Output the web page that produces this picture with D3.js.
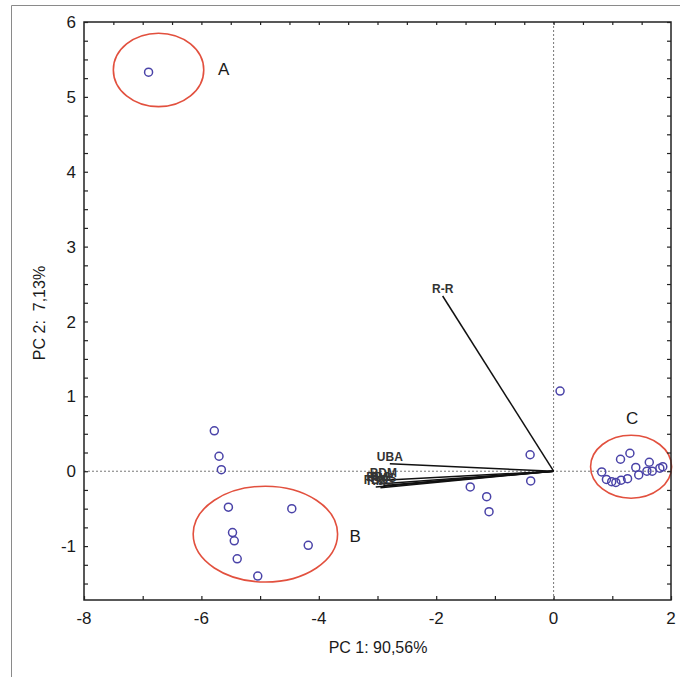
<!DOCTYPE html>
<html>
<head>
<meta charset="utf-8">
<script src="https://cdn.jsdelivr.net/npm/d3@7"></script>
<style>
  body { margin: 0; background: #fff; }
  text { font-family: "Liberation Sans", Arial, sans-serif; fill: #1a1a1a; }
</style>
</head>
<body>
<svg width="680" height="677"></svg>
<script>
// case scores (PC1, PC2)
var scoreX = [-6.9, -5.78, -5.7, -5.66, -5.54, -5.47, -5.44, -5.39, -5.04, -4.46, -4.18,
  0.11, -0.4, -0.39, -1.42, -1.14, -1.1,
  0.82, 0.9, 0.99, 1.06, 1.15, 1.26, 1.14, 1.3, 1.4, 1.45, 1.59, 1.63, 1.68, 1.81, 1.86];
var scoreY = [5.33, 0.54, 0.2, 0.02, -0.48, -0.82, -0.93, -1.17, -1.4, -0.5, -0.99,
  1.07, 0.22, -0.13, -0.21, -0.34, -0.54,
  -0.01, -0.11, -0.14, -0.15, -0.12, -0.1, 0.16, 0.24, 0.05, -0.05, 0.0, 0.12, 0.0, 0.04, 0.06];

// variable loadings
var varNames = ["R-R", "UBA", "BDM", "PBS", "FBS", "RMS", "PMS"];
var loadX = [-1.89, -2.79, -2.9, -2.98, -3.03, -2.95, -2.9];
var loadY = [2.34, 0.1, -0.12, -0.17, -0.21, -0.22, -0.19];

// group ellipses
var groups = ["A", "B", "C"];
var ellCx = [-6.73, -4.91, 1.32];
var ellCy = [5.36, -0.84, 0.06];
var ellRx = [0.77, 1.23, 0.69];
var ellRy = [0.49, 0.64, 0.42];
var grpLabX = [-5.62, -3.38, 1.34];
var grpLabY = [5.37, -0.87, 0.71];

var xTicks = [-8, -6, -4, -2, 0, 2];
var yTicks = [-1, 0, 1, 2, 3, 4, 5, 6];

var svg = d3.select("svg");

// outer frame (top and left)
svg.append("path")
  .attr("d", "M11.5,677V5.5H680")
  .attr("fill", "none")
  .attr("stroke", "#8a8a8a")
  .attr("stroke-width", 1);

var x = d3.scaleLinear().domain([-8, 2]).range([84, 671]);
var y = d3.scaleLinear().domain([-1.72, 6]).range([600, 22]);

var plot = svg.append("g");

// zero lines
plot.append("line")
  .attr("x1", x(-8)).attr("x2", x(2))
  .attr("y1", y(0)).attr("y2", y(0))
  .attr("stroke", "#777").attr("stroke-dasharray", "2,2");
plot.append("line")
  .attr("x1", x(0)).attr("x2", x(0))
  .attr("y1", y(-1.72)).attr("y2", y(6))
  .attr("stroke", "#777").attr("stroke-dasharray", "2,2");

// ellipses
plot.selectAll("ellipse")
  .data(groups)
  .enter()
  .append("ellipse")
  .attr("cx", function (d, i) { return x(ellCx[i]); })
  .attr("cy", function (d, i) { return y(ellCy[i]); })
  .attr("rx", function (d, i) { return x(ellRx[i]) - x(0); })
  .attr("ry", function (d, i) { return y(0) - y(ellRy[i]); })
  .attr("fill", "none")
  .attr("stroke", "#e2503e")
  .attr("stroke-width", 1.6);

plot.selectAll(".grp")
  .data(groups)
  .enter()
  .append("text")
  .attr("class", "grp")
  .attr("x", function (d, i) { return x(grpLabX[i]); })
  .attr("y", function (d, i) { return y(grpLabY[i]); })
  .attr("dy", "0.36em")
  .attr("text-anchor", "middle")
  .style("font-size", "17px")
  .text(function (d) { return d; });

// loading vectors
plot.selectAll(".vec")
  .data(varNames)
  .enter()
  .append("line")
  .attr("class", "vec")
  .attr("x1", x(0)).attr("y1", y(0))
  .attr("x2", function (d, i) { return x(loadX[i]); })
  .attr("y2", function (d, i) { return y(loadY[i]); })
  .attr("stroke", "#111")
  .attr("stroke-width", 1.5);

plot.selectAll(".vlab")
  .data(varNames)
  .enter()
  .append("text")
  .attr("class", "vlab")
  .attr("x", function (d, i) { return x(loadX[i]); })
  .attr("y", function (d, i) { return y(loadY[i]) - 3; })
  .attr("text-anchor", "middle")
  .style("font-size", "12px")
  .style("font-weight", "bold")
  .style("fill", "#333")
  .text(function (d) { return d; });

// score points
plot.selectAll("circle")
  .data(scoreX)
  .enter()
  .append("circle")
  .attr("cx", function (d) { return x(d); })
  .attr("cy", function (d, i) { return y(scoreY[i]); })
  .attr("r", 4)
  .attr("fill", "none")
  .attr("stroke", "#4a43a8")
  .attr("stroke-width", 1.5);

// frame
plot.append("rect")
  .attr("x", x(-8)).attr("y", y(6))
  .attr("width", x(2) - x(-8))
  .attr("height", y(-1.72) - y(6))
  .attr("fill", "none")
  .attr("stroke", "#222")
  .attr("stroke-width", 1.5);

// inward ticks
var xMinor = d3.range(-8, 2.01, 1);
var yMinor = d3.range(-1.5, 6.01, 0.25);

svg.append("g")
  .attr("transform", "translate(0," + y(-1.72) + ")")
  .call(d3.axisBottom(x).tickValues(xMinor).tickSizeInner(-4).tickSizeOuter(0).tickFormat(""))
  .call(function (g) { g.select(".domain").remove(); });
svg.append("g")
  .attr("transform", "translate(0," + y(6) + ")")
  .call(d3.axisTop(x).tickValues(d3.range(-7.5, 2, 0.5)).tickSizeInner(-3).tickSizeOuter(0).tickFormat(""))
  .call(function (g) { g.select(".domain").remove(); });
svg.append("g")
  .attr("transform", "translate(" + x(-8) + ",0)")
  .call(d3.axisLeft(y).tickValues(yMinor).tickSizeInner(-4).tickSizeOuter(0).tickFormat(""))
  .call(function (g) { g.select(".domain").remove(); });
svg.append("g")
  .attr("transform", "translate(" + x(2) + ",0)")
  .call(d3.axisRight(y).tickValues(yMinor).tickSizeInner(-4).tickSizeOuter(0).tickFormat(""))
  .call(function (g) { g.select(".domain").remove(); });
svg.selectAll(".tick line").attr("stroke", "#222").attr("stroke-width", 1.2);

// tick labels
svg.selectAll(".xl")
  .data(xTicks)
  .enter()
  .append("text")
  .attr("class", "xl")
  .attr("x", function (d) { return x(d); })
  .attr("y", 624)
  .attr("text-anchor", "middle")
  .style("font-size", "17px")
  .text(function (d) { return d; });

svg.selectAll(".yl")
  .data(yTicks)
  .enter()
  .append("text")
  .attr("class", "yl")
  .attr("x", 76)
  .attr("y", function (d) { return y(d); })
  .attr("dy", "0.36em")
  .attr("text-anchor", "end")
  .style("font-size", "17px")
  .text(function (d) { return d; });

// axis titles
svg.append("text")
  .attr("x", 378).attr("y", 653)
  .attr("text-anchor", "middle")
  .style("font-size", "16px")
  .text("PC 1: 90,56%");

svg.append("text")
  .attr("transform", "translate(45,313) rotate(-90)")
  .attr("text-anchor", "middle")
  .style("font-size", "16px")
  .style("white-space", "pre")
  .text("PC 2:  7,13%");
</script>
</body>
</html>
